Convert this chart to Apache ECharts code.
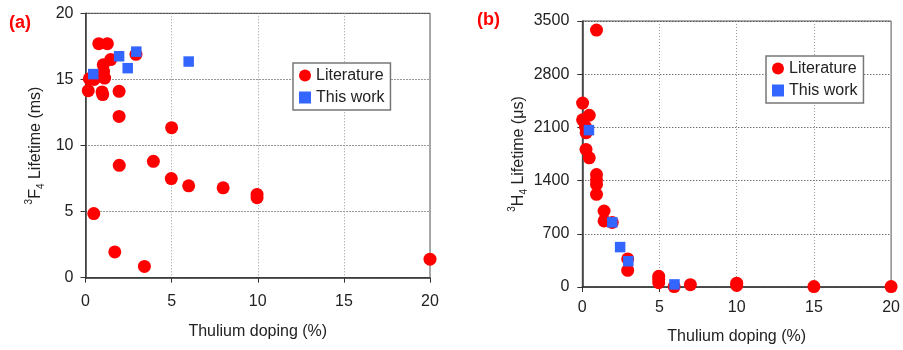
<!DOCTYPE html>
<html>
<head>
<meta charset="utf-8">
<script src="https://cdn.jsdelivr.net/npm/echarts@6/dist/echarts.min.js"></script>
<style>
  html, body { margin: 0; padding: 0; background: #fff; }
  #chart { width: 903px; height: 350px; }
</style>
</head>
<body>
<div id="chart"></div>
<script>
// Panel (a): 3F4 lifetime (ms) vs thulium doping (%)
const litA_x = [0.77, 1.27, 1.46, 1.03, 2.93, 0.22, 0.50, 1.11, 1.05, 0.16, 0.96, 1.00, 1.95, 1.95, 5.00, 1.96, 3.94, 4.98, 5.99, 7.99, 9.96, 9.96, 0.48, 1.70, 3.42, 20.0];
const litA_y = [17.7, 17.7, 16.5, 16.1, 16.9, 15.05, 15.0, 15.1, 15.6, 14.15, 14.05, 13.85, 14.1, 12.2, 11.35, 8.5, 8.8, 7.5, 6.95, 6.8, 6.3, 6.05, 4.85, 1.95, 0.85, 1.4];
const workA_x = [0.45, 1.95, 2.45, 2.95, 5.99];
const workA_y = [15.4, 16.75, 15.85, 17.1, 16.35];

// Panel (b): 3H4 lifetime (µs) vs thulium doping (%)
const litB_x = [0.92, 0.02, 0.45, 0.02, 0.20, 0.25, 0.24, 0.45, 0.92, 0.92, 0.92, 0.92, 1.41, 1.41, 1.94, 2.94, 2.94, 4.95, 4.95, 4.95, 5.95, 7.0, 10.0, 10.0, 15.0, 20.0];
const litB_y = [3380, 2420, 2260, 2200, 2110, 2030, 1810, 1700, 1480, 1410, 1350, 1220, 1000, 870, 850, 370, 220, 140, 100, 56, 5, 30, 50, 20, 5, 5];
const workB_x = [0.43, 1.94, 2.45, 2.98, 5.97];
const workB_y = [2064, 851, 525, 339, 34];

const xTicksMax = 20, xTickStep = 5;
const yA_max = 20, yA_step = 5;
const yB_max = 3500, yB_step = 700;

const FONT = '"Liberation Sans", Arial, sans-serif';
const TXT = '#222';
const RED = '#ff0000';
const BLUE = '#3366ff';

const pairs = (xs, ys) => xs.map((x, i) => [x, ys[i]]);
const plain = v => String(v);

function xAxisCfg(gridIndex, labelMargin, nameGap) {
  return {
    gridIndex, type: 'value', min: 0, max: xTicksMax, interval: xTickStep,
    name: 'Thulium doping (%)', nameLocation: 'middle', nameGap,
    nameTextStyle: { fontFamily: FONT, fontSize: 16, color: TXT },
    axisLine: { show: true, onZero: false, lineStyle: { color: '#333', width: 1.5 } },
    axisTick: { show: true, inside: false, length: 5, lineStyle: { color: '#333' } },
    axisLabel: { fontFamily: FONT, fontSize: 16, color: TXT, margin: labelMargin, formatter: plain },
    splitLine: { show: true, lineStyle: { color: '#999', width: 1, type: [1, 2] } }
  };
}

function yAxisCfg(gridIndex, max, step, name, nameGap, labelMargin) {
  return {
    gridIndex, type: 'value', min: 0, max, interval: step,
    name, nameLocation: 'middle', nameGap,
    nameTextStyle: {
      fontFamily: FONT, fontSize: 16, color: TXT,
      rich: {
        t: { fontFamily: FONT, fontSize: 16, color: TXT, lineHeight: 22 },
        sup: { fontFamily: FONT, fontSize: 10, color: TXT, verticalAlign: 'top', lineHeight: 22 },
        sub: { fontFamily: FONT, fontSize: 10, color: TXT, verticalAlign: 'bottom', lineHeight: 22 }
      }
    },
    axisLine: { show: true, onZero: false, lineStyle: { color: '#333', width: 1.5 } },
    axisTick: { show: true, inside: false, length: 5, lineStyle: { color: '#333' } },
    axisLabel: { fontFamily: FONT, fontSize: 16, color: TXT, margin: labelMargin, formatter: plain },
    splitLine: { show: true, lineStyle: { color: '#333', width: 1, type: [1, 2] } }
  };
}

function legendCfg(left, top, seriesNames) {
  return {
    left, top, orient: 'vertical',
    data: [
      { name: seriesNames[0], icon: 'circle' },
      { name: seriesNames[1], icon: 'rect' }
    ],
    formatter: n => n.replace(/ \(.\)$/, ''),
    itemWidth: 12, itemHeight: 12, itemGap: 5,
    padding: [4, 6],
    backgroundColor: '#fff',
    borderColor: '#777', borderWidth: 1.5,
    textStyle: { fontFamily: FONT, fontSize: 16, color: TXT, lineHeight: 17 },
    selectedMode: false
  };
}

const chart = echarts.init(document.getElementById('chart'), null, { renderer: 'canvas' });

chart.setOption({
  animation: false,
  backgroundColor: '#fff',
  grid: [
    { left: 85.5, top: 13.3, width: 344.5, height: 264.4, show: true, borderColor: '#555', borderWidth: 1, backgroundColor: 'transparent' },
    { left: 582.3, top: 21, width: 312.7, height: 268.3, show: true, borderColor: '#555', borderWidth: 1, backgroundColor: 'transparent' }
  ],
  xAxis: [xAxisCfg(0, 16, 46), xAxisCfg(1, 13, 42)],
  yAxis: [
    yAxisCfg(0, yA_max, yA_step, '{sup|3}{t|F}{sub|4}{t| Lifetime (ms)}', 39, 12),
    yAxisCfg(1, yB_max, yB_step, '{sup|3}{t|H}{sub|4}{t| Lifetime (μs)}', 53, 13)
  ],
  legend: [
    legendCfg(293, 63, ['Literature (a)', 'This work (a)']),
    legendCfg(766, 56, ['Literature (b)', 'This work (b)'])
  ],
  graphic: [
    { type: 'text', left: 9, top: 14, style: { text: '(a)', font: 'bold 18px ' + FONT, fill: RED } },
    { type: 'text', left: 477, top: 11, style: { text: '(b)', font: 'bold 18px ' + FONT, fill: RED } }
  ],
  series: [
    { name: 'Literature (a)', type: 'scatter', xAxisIndex: 0, yAxisIndex: 0, symbol: 'circle', symbolSize: 13,
      itemStyle: { color: RED, opacity: 1 }, data: pairs(litA_x, litA_y), z: 3 },
    { name: 'This work (a)', type: 'scatter', xAxisIndex: 0, yAxisIndex: 0, symbol: 'rect', symbolSize: 10.5,
      itemStyle: { color: BLUE, opacity: 1 }, data: pairs(workA_x, workA_y), z: 4 },
    { name: 'Literature (b)', type: 'scatter', xAxisIndex: 1, yAxisIndex: 1, symbol: 'circle', symbolSize: 13,
      itemStyle: { color: RED, opacity: 1 }, data: pairs(litB_x, litB_y), z: 3 },
    { name: 'This work (b)', type: 'scatter', xAxisIndex: 1, yAxisIndex: 1, symbol: 'rect', symbolSize: 10.5,
      itemStyle: { color: BLUE, opacity: 1 }, data: pairs(workB_x, workB_y), z: 4 }
  ]
});
</script>
</body>
</html>
